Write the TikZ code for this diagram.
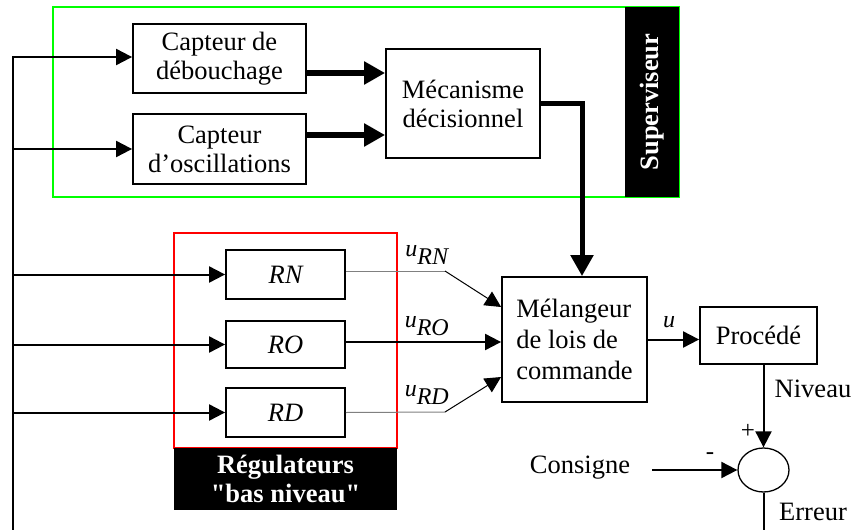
\documentclass[tikz,border=0pt]{standalone}
\usepackage{fontspec}
\setmainfont{Liberation Serif}
\usetikzlibrary{arrows.meta,shapes.geometric}

\begin{document}
\begin{tikzpicture}
    [x=1pt, y=-1pt,
    line width=2pt,
    >={Triangle[length=16pt, width=16pt]},
    every node/.style={font=\fontsize{26.5}{29}\selectfont},
    bloc/.style={draw, line width=1.8pt, inner sep=0pt, align=center},
    etiq/.style={fill=black, text=white, font=\fontsize{26.5}{29}\selectfont\bfseries, inner sep=0pt, align=center},
    gros/.style={line width=6pt, -{Triangle[length=21pt, width=22pt]}},
    fin/.style={line width=1pt},
    signe/.style={inner sep=0pt, font=\fontsize{24}{26}\selectfont\itshape}]
        \useasboundingbox (0,0) rectangle (854,530);

        %% Superviseur
        \draw[green, line width=2pt] (53,7) rectangle (679,197);
        \node[etiq, rotate=90, minimum width=190, minimum height=54] (sup) at (652,102) {Superviseur};
        \node[bloc, minimum width=173, minimum height=69] (deb) at (219.5,58.5) {Capteur de\\débouchage};
        \node[bloc, minimum width=173, minimum height=70] (osc) at (219.5,149) {Capteur\\d’oscillations};
        \node[bloc, minimum width=154, minimum height=109] (meca) at (463,103.5) {Mécanisme\\décisionnel};

        %% Regulateurs bas niveau
        \draw[red, line width=2pt] (174,233) rectangle (397,448);
        \node[etiq, minimum width=223, minimum height=62] (reg) at (285.5,479) {Régulateurs\\\textquotedbl bas niveau\textquotedbl};
        \node[bloc, minimum width=119, minimum height=49, font=\fontsize{26.5}{29}\selectfont\itshape] (RN) at (285.5,274.5) {RN};
        \node[bloc, minimum width=119, minimum height=47, font=\fontsize{26.5}{29}\selectfont\itshape] (RO) at (285.5,344.5) {RO};
        \node[bloc, minimum width=119, minimum height=49, font=\fontsize{26.5}{29}\selectfont\itshape] (RD) at (285.5,412.5) {RD};

        %% Melangeur, procede, comparateur
        \node[bloc, minimum width=145, minimum height=125, align=left, font=\fontsize{26.5}{31}\selectfont] (mel) at (574.5,339.5) {Mélangeur\\de lois de\\commande};
        \node[bloc, minimum width=117, minimum height=57] (proc) at (758.5,335.5) {Procédé};
        \node[draw, ellipse, line width=1.3pt, inner sep=0pt, minimum width=51, minimum height=44] (sum) at (763.5,470) {};
        \node (cons) at (580,468) {Consigne};
        \node (niv) at (813,389) {Niveau};
        \node (err) at (813,512) {Erreur};
        \node[inner sep=0pt, font=\fontsize{25}{26}\selectfont] (plus) at (748,431) {+};
        \node[inner sep=0pt, font=\fontsize{25}{26}\selectfont] (moins) at (710,456) {-};

        \coordinate (bas) at (13,530);
        \coordinate (kN) at (445,271);
        \coordinate (kD) at (445,412);
        \coordinate (cin) at (652,470);

        %% Mesures vers capteurs et regulateurs
        \draw[->] (bas) |- ([yshift=1.5]deb.west);
        \draw[->] (bas |- osc.west) -- (osc.west);
        \draw[->] (bas |- RN.west) -- (RN.west);
        \draw[->] (bas |- RO.west) -- (RO.west);
        \draw[->] (bas |- RD.west) -- (RD.west);

        \draw[gros] ([yshift=-14.5]deb.east) -- ([yshift=-14.5]deb.east -| meca.west);
        \draw[gros] ([yshift=14]osc.east) -- ([yshift=14]osc.east -| meca.west);
        \draw[gros, line width=5pt] (meca.east) -| ([xshift=7.5]mel.north);

        %% Lois de commande
        \draw[fin, gray] ([yshift=3.5]RN.east) -- (kN);
        \draw[fin, ->] (kN) -- ([yshift=32.5]mel.west);
        \node[signe] (uRN) at (427,255) {u$_{\textit{RN}}$};
        \draw[->] ([yshift=2.5]RO.east) -- ([yshift=2.5]RO.east -| mel.west);
        \node[signe] (uRO) at (427,326) {u$_{\textit{RO}}$};
        \draw[fin, gray] (RD.east) -- (kD);
        \draw[fin, ->] (kD) -- ([yshift=-37.5]mel.west);
        \node[signe] (uRD) at (427,395) {u$_{\textit{RD}}$};

        \draw[->] (mel.east) -- (mel.east -| proc.west);
        \node[signe] (u) at (669,322) {u};
        \draw[->] (sum.north |- proc.south) -- (sum.north);
        \draw[->] (cin) -- (sum.west);
        \draw (sum.south) -- (sum.south |- bas);
    \end{tikzpicture}
\end{document}
